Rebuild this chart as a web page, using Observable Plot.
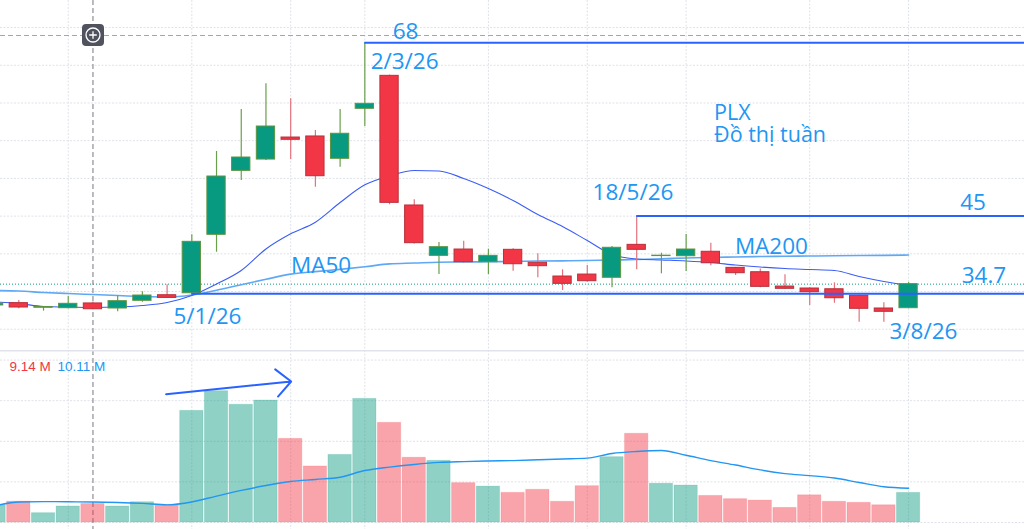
<!DOCTYPE html>
<html><head><meta charset="utf-8">
<script src="https://cdn.jsdelivr.net/npm/d3@7"></script>
<script src="https://cdn.jsdelivr.net/npm/@observablehq/plot@0.6"></script>
<style>
html,body{margin:0;padding:0;background:#fff;overflow:hidden;width:1024px;height:529px}
#chart{position:relative;width:1024px;height:529px}
#chart svg{display:block}
#btn{position:absolute;left:82px;top:24px;width:22px;height:22px;background:#50535e;border-radius:4px}
</style>
</head><body>
<div id="chart"></div>
<script>
// Weekly bars (Monday of each week)
const weeks = ["2025-11-17","2025-11-24","2025-12-01","2025-12-08","2025-12-15","2025-12-22","2025-12-29",
"2026-01-05","2026-01-12","2026-01-19","2026-01-26","2026-02-02","2026-02-09","2026-02-16","2026-02-23",
"2026-03-02","2026-03-09","2026-03-16","2026-03-23","2026-03-30","2026-04-06","2026-04-13","2026-04-20",
"2026-04-27","2026-05-04","2026-05-11","2026-05-18","2026-05-25","2026-06-01","2026-06-08","2026-06-15",
"2026-06-22","2026-06-29","2026-07-06","2026-07-13","2026-07-20","2026-07-27","2026-08-03"];
const opens  = [33.15,33.46,32.85,32.79,33.42,32.75,33.77,34.51,34.77,42.52,51.0,52.5,55.42,55.56,52.6,59.23,63.6,46.41,39.73,40.57,38.89,40.53,38.81,36.99,37.25,36.82,41.19,39.7,39.68,40.27,38.14,37.56,35.66,35.4,35.3,34.43,32.75,32.79];
const highs  = [33.5,33.8,33.0,34.34,33.6,34.43,34.96,35.9,42.52,53.57,59.14,62.55,60.56,56.35,59.14,68,63.7,47.16,41.5,41.67,40.61,40.66,40.0,37.88,38.45,40.97,45,40.08,42.56,41.41,38.2,38.0,37.21,35.5,36.15,34.5,33.5,36.2];
const lows   = [33.0,32.7,32.4,32.7,32.6,32.31,33.58,34.1,34.6,40.21,49.72,52.37,52.5,48.83,51.49,56.88,46.5,41.3,37.25,38.75,37.25,37.69,36.82,35.13,36.23,35.49,37.88,37.35,37.65,38.41,37.12,35.5,35.3,33.14,33.45,30.93,30.93,32.79];
const closes = [33.4,32.88,32.95,33.37,32.65,33.72,34.47,34.16,41.59,50.25,52.77,56.88,55.12,50.29,55.92,59.89,46.76,41.41,40.88,38.89,39.73,38.62,38.36,36.02,36.37,40.8,40.53,39.75,40.57,38.75,37.43,35.62,35.36,34.91,34.11,32.71,32.31,35.98];
const volumes = [8.4,10.3,4.6,7.9,9.14,7.9,10.0,8.7,55.0,64.7,58.0,60.1,41.2,27.6,33.3,60.9,49.1,31.9,30.4,19.4,17.7,14.6,16.1,10.2,17.9,32.2,43.7,19.1,18.2,13.1,11.5,10.8,7.2,13.4,10.2,9.7,8.5,14.6];
const maFast = [33.61,33.41,33.01,32.94,32.88,32.94,33.14,33.54,34.47,36.0,37.79,40.64,42.65,44.19,46.8,49.15,50.32,51.05,50.98,49.99,48.66,47.07,45.21,43.62,41.76,39.91,39.31,39.18,39.05,38.85,38.51,38.25,38.05,37.92,37.79,36.99,36.33,35.8];
const maSlow = [35.13,35.07,34.87,34.73,34.6,34.47,34.34,34.27,34.54,35.18,35.9,36.62,37.31,37.64,37.94,38.28,38.67,38.78,38.89,38.92,38.95,38.98,39.05,39.07,39.11,39.18,39.24,39.34,39.44,39.51,39.58,39.64,39.68,39.71,39.75,39.77,39.8,39.84];
const volMA = [8.1,10.1,10.3,10.2,10.11,9.85,9.4,8.7,10.1,13.0,15.8,18.2,20.2,21.2,22.3,25.6,27.3,28.6,29.6,30.0,30.3,30.5,30.9,31.3,31.7,34.0,35.0,35.5,33.1,30.5,28.3,25.9,24.1,23.1,21.9,19.7,17.6,16.9];

// grid / annotations (data units: bar index, price, volume in M)
const priceTicks = [30,35,40,45,50,55,60,65,70];
const volTicks = [0,20,40,60,80];
const monthBars = [3,8,12,15,20,24,28,33,37];
const crossBar = 4;
const crossPrice = 68.95;
const levelPrices = [68, 45, 34.7];
const levelFrom = [15, 26, 8];
const labelText = ["68","2/3/26","18/5/26","45","MA200","MA50","34.7","5/1/26","3/8/26"];
const labelBar  = [16.65,16.61,25.85,39.61,31.45,13.23,40.05,8.63,37.6];
const labelPrice= [69.42,65.41,48.06,46.74,40.9,38.38,37.12,31.62,29.7];
const titleLines = ["PLX","Đồ thị tuần"];
const titleBar = 29.13;
const titlePrice = 57.25;
const arrowBars = [6.96, 12.02];
const arrowVols = [63.2, 69.46];

const xDomain = [0.2595, 41.69];
const bars = weeks.map((w,i)=>({i, w, o:opens[i], h:highs[i], l:lows[i], c:closes[i], v:volumes[i],
  f:maFast[i], s:maSlow[i], vm:volMA[i], up: closes[i] >= opens[i]}));
const levels = levelPrices.map((p,j)=>({p, x1:levelFrom[j], x2:xDomain[1]}));
const labels = labelText.map((t,j)=>({t, x:labelBar[j], y:labelPrice[j]}));
const titles = [{t:titleLines.join("\n"), x:titleBar, y:titlePrice}];

const GREEN="#089981", RED="#f23645", TXT="#2196f3", LINE="#2962ff";
const gridStyle = {stroke:"#dfe2e8", strokeDasharray:"2,1.5", strokeWidth:1};
const font = "'Open Sans', sans-serif";

const price = Plot.plot({
  width:1024, height:350, margin:0,
  x:{domain:xDomain, axis:null},
  y:{domain:[27.18,73.59], axis:null},
  style:{background:"#fff", fontFamily:font, overflow:"hidden"},
  marks:[
    Plot.ruleY(priceTicks, gridStyle),
    Plot.ruleX(monthBars, gridStyle),
    Plot.ruleX([crossBar], {stroke:"#9598a1", strokeDasharray:"5,3", strokeWidth:1.3}),
    Plot.ruleY([crossPrice], {stroke:"#a3a6af", strokeDasharray:"5,3", strokeWidth:1}),
    Plot.ruleY([closes[closes.length-1]], {stroke:GREEN, strokeDasharray:"1,2", strokeWidth:1}),
    Plot.line(bars, {x:"i", y:"s", stroke:"#5fa8f5", strokeWidth:1.6, curve:"monotone-x"}),
    Plot.line(bars, {x:"i", y:"f", stroke:"#3b5df5", strokeWidth:1.1, curve:"monotone-x"}),
    Plot.ruleX(bars, {x:"i", y1:"l", y2:"h", stroke:d=>d.up?"#6a9f4c":"#e2737e", strokeWidth:1.2}),
    Plot.rect(bars, {x1:d=>d.i-0.37, x2:d=>d.i+0.37, y1:"o", y2:"c",
      fill:d=>d.up?GREEN:RED, stroke:d=>d.up?"#5e9440":"#b8303b", strokeWidth:1}),
    Plot.ruleY(levels, {y:"p", x1:"x1", x2:"x2", stroke:LINE, strokeWidth:2}),
    Plot.text(labels, {x:"x", y:"y", text:"t", fill:TXT, fontSize:22.5, textAnchor:"middle", lineAnchor:"middle"}),
    Plot.text(titles, {x:"x", y:"y", text:"t", fill:TXT, fontSize:21.5, lineHeight:1.06, textAnchor:"start", lineAnchor:"middle"})
  ]
});

const volume = Plot.plot({
  width:1024, height:179, margin:0,
  x:{domain:xDomain, axis:null},
  y:{domain:[-3.45,84.73], axis:null},
  style:{background:"#fff", fontFamily:"'Liberation Sans', Arial, sans-serif", overflow:"hidden"},
  marks:[
    Plot.ruleY(volTicks, gridStyle),
    Plot.ruleX(monthBars, gridStyle),
    Plot.ruleX([crossBar], {stroke:"#9598a1", strokeDasharray:"5,3", strokeWidth:1.3}),
    Plot.rect(bars, {x1:d=>d.i-0.472, x2:d=>d.i+0.472, y1:0, y2:"v",
      fill:d=>d.up?GREEN:RED, fillOpacity:0.45, stroke:d=>d.up?GREEN:RED, strokeOpacity:0.15}),
    Plot.line(bars, {x:"i", y:"vm", stroke:"#2196f3", strokeWidth:1.4, curve:"monotone-x"}),
    Plot.arrow([0], {x1:()=>arrowBars[0], y1:()=>arrowVols[0], x2:()=>arrowBars[1], y2:()=>arrowVols[1],
      stroke:LINE, strokeWidth:2, headAngle:86, headLength:15}),
    Plot.text([volumes[crossBar].toFixed(2)+" M"], {text:d=>d, frameAnchor:"top-left", dx:9, dy:11, fill:RED, fontSize:13.5}),
    Plot.text([volMA[crossBar].toFixed(2)+" M"], {text:d=>d, frameAnchor:"top-left", dx:57, dy:11, fill:"#2196f3", fontSize:13.5}),
    Plot.ruleY([84.73], {stroke:"#e0e3eb", strokeWidth:2})
  ]
});

const root = document.getElementById("chart");
root.appendChild(price);
root.appendChild(volume);
const btn = document.createElement("div");
btn.id = "btn";
btn.innerHTML = '<svg width="22" height="22" viewBox="0 0 22 22"><circle cx="11" cy="11" r="7" fill="none" stroke="#fff" stroke-width="1.3"/><path d="M11 7.2V14.8M7.2 11H14.8" stroke="#fff" stroke-width="1.3"/></svg>';
root.appendChild(btn);
</script>
</body></html>
